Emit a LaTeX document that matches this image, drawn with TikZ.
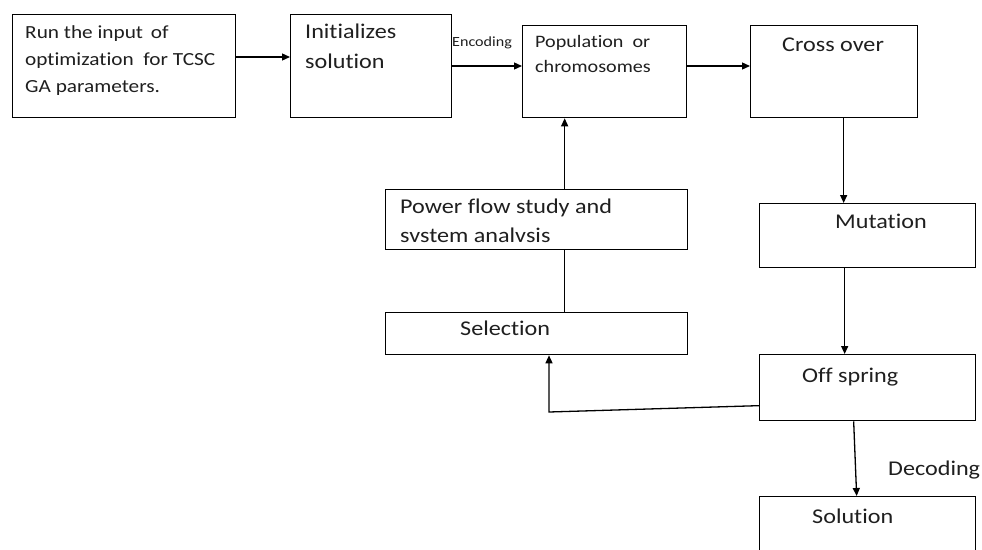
\documentclass[tikz,border=0pt]{standalone}
\usepackage{fontspec}
\setmainfont{Carlito}[FakeStretch=1.15, Ligatures=NoCommon]
\usetikzlibrary{arrows.meta}
\tikzset{
  box/.style={draw=black, line width=1.3pt, rectangle, inner sep=0pt, anchor=north west},
  arr/.style={line width=1.3pt, -{Triangle[length=8pt,width=7pt]}},
  conn/.style={line width=1.3pt},
  txt/.style={inner sep=0pt, anchor=base west, text=black!88, font=\fontsize{21}{25}\selectfont},
  txtsmall/.style={txt, font=\fontsize{18.5}{22}\selectfont},
  txtpop/.style={txt, font=\fontsize{17.5}{21}\selectfont},
  txtenc/.style={txt, font=\fontsize{14}{16}\selectfont},
}
\begin{document}
\begin{tikzpicture}[x=1pt,y=-1pt]
\clip (0,0) rectangle (982,549);
\fill[white] (0,0) rectangle (982,549);
% boxes
\node[box, minimum width=223pt, minimum height=103pt] (b1) at (12,14) {};
\node[box, minimum width=161pt, minimum height=103pt] (b2) at (290,14) {};
\node[box, minimum width=164pt, minimum height=92pt] (b3) at (522,25) {};
\node[box, minimum width=167pt, minimum height=92pt] (b4) at (750,25) {};
\node[box, minimum width=302pt, minimum height=60pt] (pf) at (385,189) {};
\node[box, minimum width=302pt, minimum height=42pt] (sel) at (385,312) {};
\node[box, minimum width=216pt, minimum height=64pt] (mut) at (759,203) {};
\node[box, minimum width=216pt, minimum height=66pt] (off) at (759,354) {};
\node[box, minimum width=216pt, minimum height=70pt] (sol) at (759,496) {};
% texts
\node[txtsmall] (t1a) at (25,38) {Run the input\ \,of};
\node[txtsmall] (t1b) at (25,65) {optimization\ \ for TCSC};
\node[txtsmall] (t1c) at (25,92) {GA parameters.};
\node[txt] (t2a) at (305,38) {Initializes};
\node[txt] (t2b) at (305,68) {solution};
\node[txtenc] (tenc) at (452,46) {Encoding};
\node[txtpop] (t3a) at (535,47) {Population\ \ or};
\node[txtpop] (t3b) at (535,72) {chromosomes};
\node[txt] (t4) at (782,51) {Cross over};
\node[txt] (tpfa) at (400,213) {Power flow study and};
\node[txt] (tpfb) at (400,242) {svstem analvsis};
\node[txt] (tsel) at (460,335) {Selection};
\node[txt] (tmut) at (835,228) {Mutation};
\node[txt] (toff) at (802,382) {Off spring};
\node[txt] (tdec) at (888,475) {Decoding};
\node[txt] (tsol) at (812,523) {Solution};
% connectors
\draw[arr] ([yshift=-43pt]b1.north east) coordinate (p1) -- (p1 -| b2.west);
\draw[arr] ([yshift=-52pt]b2.north east) coordinate (p2) -- (p2 -| b3.west);
\draw[arr] ([yshift=-41pt]b3.north east) coordinate (p3) -- (p3 -| b4.west);
\draw[arr] ([xshift=9.5pt]b4.south) coordinate (p4) -- (p4 |- mut.north);
\draw[arr] ([xshift=-23pt]mut.south) coordinate (p5) -- (p5 |- off.north);
\draw[arr] ([xshift=-14pt]off.south) -- ([xshift=-11pt]sol.north);
\coordinate (c1) at (549,412);
\draw[arr] ([yshift=-18pt]off.west) -- (c1) -- (c1 |- sel.south);
\draw[conn] ([xshift=28pt]sel.north) -- ([xshift=28pt]pf.south);
\draw[arr] ([xshift=28pt]pf.north) coordinate (p6) -- (p6 |- b3.south);
\end{tikzpicture}
\end{document}
